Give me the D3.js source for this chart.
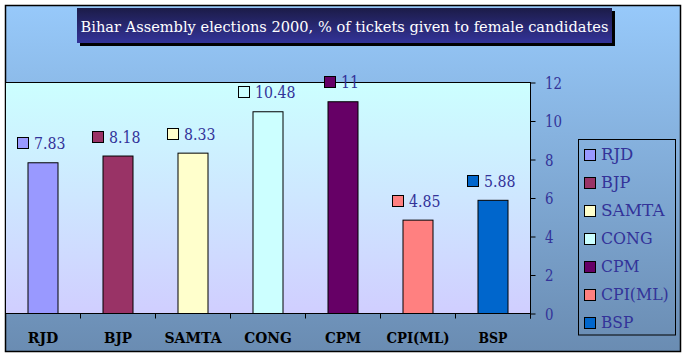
<!DOCTYPE html>
<html><head><meta charset="utf-8">
<script src="https://cdn.jsdelivr.net/npm/d3@7"></script>
<style>html,body{margin:0;padding:0;background:#fff;}svg{display:block;}</style>
</head><body>
<script>
const categories = ["RJD","BJP","SAMTA","CONG","CPM","CPI(ML)","BSP"];
const values = [7.83, 8.18, 8.33, 10.48, 11, 4.85, 5.88];
const colors = ["#9999FF","#993366","#FFFFCC","#CCFFFF","#660066","#FF8080","#0066CC"];
const yTicks = [0,2,4,6,8,10,12];
const titleText = "Bihar Assembly elections 2000, % of tickets given to female candidates";

(function(){
const W = 686, H = 357;
// Times-like advance widths (per 1000 em) used to set text lengths for the serif fallback font
const timesReg = {A:722,B:667,C:667,D:722,E:611,G:722,I:333,J:389,L:611,M:889,N:722,O:722,P:556,R:667,S:556,T:611,"(":333,")":333,".":250};
const timesBold = {A:722,B:667,C:722,D:722,E:667,G:778,I:389,J:500,L:667,M:944,N:722,O:778,P:611,R:722,S:556,T:667,"(":333,")":333,".":250};
function timesLen(str, size, table){ let s=0; for (const ch of str) s += (table[ch] || 500); return s/1000*size; }
function fit(sel, size, table){
  sel.each(function(){ const t=d3.select(this); t.attr("textLength", timesLen(t.text(), size, table)).attr("lengthAdjust","spacingAndGlyphs"); });
}

const svg = d3.select("body").append("svg").attr("width", W).attr("height", H);
const defs = svg.append("defs");
const g1 = defs.append("linearGradient").attr("id","bg").attr("x1",0).attr("y1",0).attr("x2",0).attr("y2",1);
g1.append("stop").attr("offset","0%").attr("stop-color","#97C9FA");
g1.append("stop").attr("offset","100%").attr("stop-color","#6A8CB2");
const g2 = defs.append("linearGradient").attr("id","plotbg").attr("x1",0).attr("y1",0).attr("x2",0).attr("y2",1);
g2.append("stop").attr("offset","0%").attr("stop-color","#CCFFFF");
g2.append("stop").attr("offset","100%").attr("stop-color","#D0CEFF");
const g3 = defs.append("linearGradient").attr("id","titlebg").attr("x1",0).attr("y1",0).attr("x2",0).attr("y2",1);
g3.append("stop").attr("offset","0%").attr("stop-color","#1C1C48");
g3.append("stop").attr("offset","100%").attr("stop-color","#333399");

const serif = "DejaVu Serif, serif";
const labelColor = "#333399";

// outer frame
svg.append("rect").attr("x",5.5).attr("y",5.5).attr("width",675).attr("height",346)
  .attr("fill","url(#bg)").attr("stroke","#000").attr("stroke-width",1.5);

const pL = 5.5, pR = 530.5, pT = 82.5, pB = 313.5;
const x = d3.scaleBand().domain(categories).range([pL, pR]).paddingInner(0.6).paddingOuter(0.3);
const xOuter = d3.scaleBand().domain(categories).range([pL, pR]).padding(0);
const y = d3.scaleLinear().domain([0, 12]).range([pB, pT]);

// plot area
svg.append("rect").attr("x",pL).attr("y",pT).attr("width",pR-pL).attr("height",pB-pT)
  .attr("fill","url(#plotbg)").attr("stroke","#000").attr("stroke-width",1);

// bars
svg.selectAll("rect.bar").data(categories).enter().append("rect").attr("class","bar")
  .attr("x", d => x(d)).attr("width", x.bandwidth())
  .attr("y", (d,i) => y(values[i])).attr("height", (d,i) => pB - y(values[i]))
  .attr("fill", (d,i) => colors[i]).attr("stroke","#000").attr("stroke-width",1);

// category ticks
const tickXs = categories.map(c => xOuter(c)).slice(1).concat([pR]);
svg.selectAll("line.ct").data(tickXs).enter().append("line")
  .attr("x1", d => d).attr("x2", d => d).attr("y1", pB).attr("y2", pB + 5)
  .attr("stroke","#000").attr("stroke-width",1);

// category labels
const catT = svg.selectAll("text.cat").data(categories).enter().append("text")
  .attr("x", d => xOuter(d) + xOuter.bandwidth()/2).attr("y", 343)
  .attr("text-anchor","middle").attr("font-family",serif).attr("font-weight","bold")
  .attr("font-size",15.5).attr("fill","#000").text(d => d);
fit(catT, 15.8, timesBold);

// y axis on right
const yAxis = d3.axisRight(y).tickValues(yTicks).tickSize(5).tickSizeOuter(0).tickFormat(d3.format("d"));
const ya = svg.append("g").attr("transform", `translate(${pR},0)`).call(yAxis);
ya.select(".domain").remove();
ya.selectAll(".tick line").attr("stroke","#000");
const yt = ya.selectAll(".tick text").attr("x", 14.5).attr("dy","0.36em").attr("font-family",serif)
  .attr("font-size",16.5).attr("fill",labelColor).attr("text-anchor","start");
fit(yt, 17, timesReg);
svg.append("line").attr("x1",pR).attr("x2",pR).attr("y1",pT).attr("y2",pB+5)
  .attr("stroke","#000").attr("stroke-width",1);

// data labels
categories.forEach((c,i) => {
  const bt = y(values[i]);
  const cx = x(c) + x.bandwidth()/2 - 2;
  const t = svg.append("text").attr("font-family",serif).attr("font-size",17)
    .attr("fill",labelColor).attr("y", bt - 13.5).text(String(values[i]));
  fit(t, 18, timesReg);
  const tw = timesLen(String(values[i]), 18, timesReg);
  const gw = 11 + 5.5 + tw;
  const x0 = Math.round(cx - gw/2) + 0.5;
  svg.append("rect").attr("x", x0).attr("y", Math.round(bt - 25.5) + 0.5).attr("width", 11).attr("height", 11)
    .attr("fill", colors[i]).attr("stroke","#000").attr("stroke-width",1);
  t.attr("x", x0 + 16.5);
});

// title box
svg.append("rect").attr("x",80).attr("y",11).attr("width",535).attr("height",35).attr("fill","#000");
svg.append("rect").attr("x",77).attr("y",8).attr("width",535).attr("height",35).attr("fill","url(#titlebg)");
const tt = svg.append("text").attr("x",344.5).attr("y",32).attr("text-anchor","middle")
  .attr("font-family",serif).attr("font-size",17).attr("fill","#fff").text(titleText);
const natural = tt.node().getComputedTextLength();
if (natural > 528) {
  tt.attr("font-size", Math.max(15, 17 * 528 / natural));
}
tt.attr("textLength",528).attr("lengthAdjust","spacingAndGlyphs");

// legend
svg.append("rect").attr("x",578.5).attr("y",139.5).attr("width",97).attr("height",195.5)
  .attr("fill","none").attr("stroke","#000").attr("stroke-width",1);
categories.forEach((c,i) => {
  const cy = 154.7 + 28*i;
  svg.append("rect").attr("x",584.5).attr("y",Math.round(cy - 5.5) + 0.5).attr("width",11).attr("height",11)
    .attr("fill",colors[i]).attr("stroke","#000").attr("stroke-width",1);
  const lt = svg.append("text").attr("x",601).attr("y",cy + 5.5).attr("font-family",serif)
    .attr("font-size",16.5).attr("fill",labelColor).text(c);
  fit(lt, 18.2, timesReg);
});
})();
</script>
</body></html>
